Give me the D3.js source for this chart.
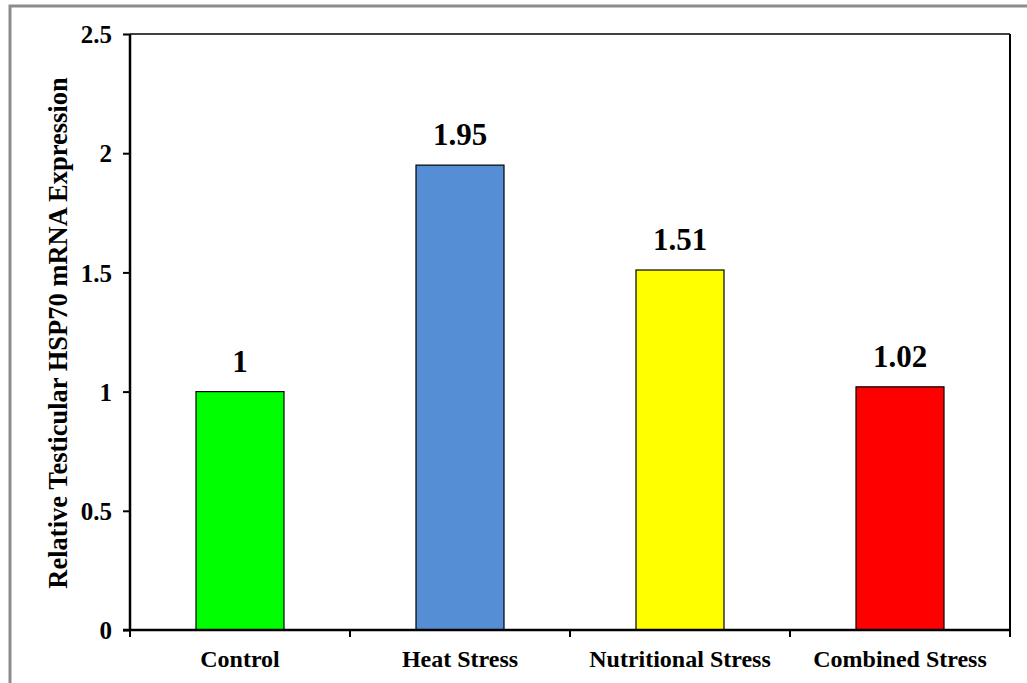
<!DOCTYPE html>
<html>
<head>
<meta charset="utf-8">
<script src="https://cdn.jsdelivr.net/npm/d3@7"></script>
<style>
  body { margin: 0; background: #fff; }
  svg text { font-family: "Liberation Serif", "Times New Roman", serif; font-weight: bold; }
</style>
</head>
<body>
<svg id="chart" width="1027" height="683"></svg>
<script>
// chart data
var categories = ["Control", "Heat Stress", "Nutritional Stress", "Combined Stress"];
var values = [1, 1.95, 1.51, 1.02];
var valueLabels = ["1", "1.95", "1.51", "1.02"];
var barColors = ["#00ff00", "#558ed5", "#ffff00", "#ff0000"];
var yTicks = [0, 0.5, 1, 1.5, 2, 2.5];

var svg = d3.select("#chart");
var margin = { top: 34, right: 17, bottom: 53, left: 130 };
var width = 1027 - margin.left - margin.right;
var height = 683 - margin.top - margin.bottom;

// outer frame (runs off the right and bottom edges)
svg.append("rect")
  .attr("x", 10).attr("y", 6)
  .attr("width", 1040).attr("height", 700)
  .attr("fill", "none")
  .attr("stroke", "#8c8c8c")
  .attr("stroke-width", 3);

var g = svg.append("g").attr("transform", `translate(${margin.left},${margin.top})`);

var x = d3.scaleBand().domain(categories).range([0, width]).paddingInner(0.6).paddingOuter(0.3);
var xEdge = d3.scaleLinear().domain([0, categories.length]).range([0, width]);
var y = d3.scaleLinear().domain([0, 2.5]).range([height, 0]);

// plot border top / right
g.append("line").attr("x1", 0).attr("x2", width).attr("y1", 0).attr("y2", 0)
  .attr("stroke", "#000").attr("stroke-width", 1.5);
g.append("line").attr("x1", width).attr("x2", width).attr("y1", 0).attr("y2", height + 7)
  .attr("stroke", "#000").attr("stroke-width", 2);

// bars
g.selectAll(".bar")
  .data(values)
  .enter().append("rect")
  .attr("x", (d, i) => x(categories[i]))
  .attr("y", (d) => y(d))
  .attr("width", x.bandwidth())
  .attr("height", (d) => height - y(d))
  .attr("fill", (d, i) => barColors[i])
  .attr("stroke", "#000")
  .attr("stroke-width", 1.2);

// value labels
g.selectAll(".vlabel")
  .data(values)
  .enter().append("text")
  .attr("x", (d, i) => x(categories[i]) + x.bandwidth() / 2)
  .attr("y", (d) => y(d) - 20)
  .attr("text-anchor", "middle")
  .style("font-size", "31px")
  .text((d, i) => valueLabels[i]);

// y axis
var yAxis = g.append("g")
  .call(d3.axisLeft(y).tickValues(yTicks).tickSize(7).tickPadding(11).tickFormat(d3.format("")));
yAxis.select(".domain").attr("stroke-width", 2.5).attr("d", `M0,0V${height}`);
yAxis.selectAll(".tick line").attr("stroke-width", 2);
yAxis.selectAll("text").style("font-size", "25px").attr("fill", "#000").attr("dy", "0.35em");

// x axis line and boundary ticks
g.append("line").attr("x1", -7).attr("x2", width).attr("y1", height).attr("y2", height)
  .attr("stroke", "#000").attr("stroke-width", 2.5);
g.selectAll(".xtick")
  .data(d3.range(categories.length + 1))
  .enter().append("line")
  .attr("x1", (d) => xEdge(d)).attr("x2", (d) => xEdge(d))
  .attr("y1", height).attr("y2", height + 7)
  .attr("stroke", "#000").attr("stroke-width", 2);

// category labels
g.selectAll(".xlabel")
  .data(categories)
  .enter().append("text")
  .attr("x", (d) => x(d) + x.bandwidth() / 2)
  .attr("y", height + 37)
  .attr("text-anchor", "middle")
  .style("font-size", "24px")
  .text((d) => d);

// y axis title
svg.append("text")
  .attr("transform", `translate(67,${margin.top + height / 2 + 1}) rotate(-90)`)
  .attr("text-anchor", "middle")
  .style("font-size", "26.5px")
  .text("Relative Testicular HSP70 mRNA Expression");
</script>
</body>
</html>
